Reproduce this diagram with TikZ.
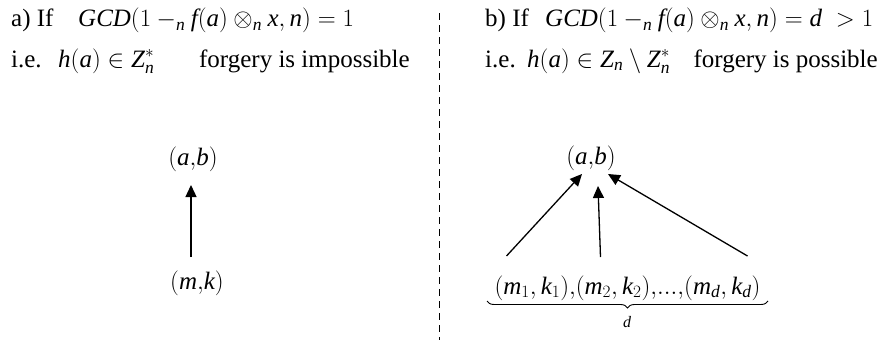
\documentclass[tikz,border=0pt]{standalone}
\usepackage{fontspec}
\setmainfont{Liberation Serif}
\usetikzlibrary{arrows.meta,calc,decorations.pathreplacing}
\newcommand\mi[1]{\mathit{#1}}
\begin{document}
\begin{tikzpicture}[x=1pt,y=-1pt,
  txt/.style={inner sep=0pt,anchor=base west,font=\fontsize{25}{29}\selectfont},
  txte/.style={inner sep=0pt,anchor=base east,font=\fontsize{25}{29}\selectfont},
  pt/.style={inner sep=0pt,font=\fontsize{25}{29}\selectfont},
  arr/.style={line width=1.3pt,-{Triangle[length=12pt,width=11pt]}},
  divider/.style={line width=1pt,dash pattern=on 7pt off 5pt}]
\useasboundingbox (0,0) rectangle (884,340);
% left header
\node[txt] (la) at (11,27) {a) If};
\node[txt] (lf) at (78,27) {$\mi{GCD}(1-_{\mi{n}}\mi{f}(\mi{a})\otimes_{\mi{n}}\mi{x},\mi{n})=1$};
\node[txt] (lb) at (11,67) {i.e.};
\node[txt] (lh) at (58,67) {$\mi{h}(\mi{a})\in \mi{Z}^{*}_{\mi{n}}$};
\node[txte] (lt) at (410,67) {forgery is impossible};
% right header
\node[txt] (ra) at (485,27) {b) If};
\node[txt] (rf) at (545,27) {$\mi{GCD}(1-_{\mi{n}}\mi{f}(\mi{a})\otimes_{\mi{n}}\mi{x},\mi{n})=\mi{d}\;>1$};
\node[txt] (rb) at (485,67) {i.e.};
\node[txt] (rh) at (527,67) {$\mi{h}(\mi{a})\in \mi{Z}_{\mi{n}}\setminus \mi{Z}^{*}_{\mi{n}}$};
\node[txte] (rt) at (878,67) {forgery is possible};
% divider
\coordinate (dtop) at (439,13);
\coordinate (dbot) at (439,340);
\draw[divider] (dtop) -- (dbot);
% left diagram
\node[pt] (ab1) at (193,159) {$(\mi{a}{,}\mi{b})$};
\node[pt] (mk) at (197,283) {$(\mi{m}{,}\mi{k})$};
\draw[arr] ($(mk.center)+(-6,-26)$) -- ($(ab1.center)+(-2,26)$);
% right diagram
\node[pt] (ab2) at (591,158) {$(\mi{a}{,}\mi{b})$};
\node[pt] (ms) at (627.5,288) {$(\mi{m}_1,\mi{k}_1){,}(\mi{m}_2,\mi{k}_2){,}.{.}.{,}(\mi{m}_{\mi{d}},\mi{k}_{\mi{d}})$};
\draw[arr] ($(ms.center)+(-121,-32)$) -- ($(ab2.center)+(-9,16)$);
\draw[arr] ($(ms.center)+(-27,-31)$) -- ($(ab2.center)+(7,28)$);
\draw[arr] ($(ms.center)+(120,-32)$) -- ($(ab2.center)+(17,16)$);
\coordinate (bl) at (487,301);
\coordinate (br) at (768,301);
\draw[line width=0.9pt,decorate,decoration={brace,mirror,amplitude=7pt}] (bl) -- (br);
\node[inner sep=0pt,font=\fontsize{16}{18}\selectfont] (dd) at (627,322) {$\mi{d}$};
\end{tikzpicture}
\end{document}
